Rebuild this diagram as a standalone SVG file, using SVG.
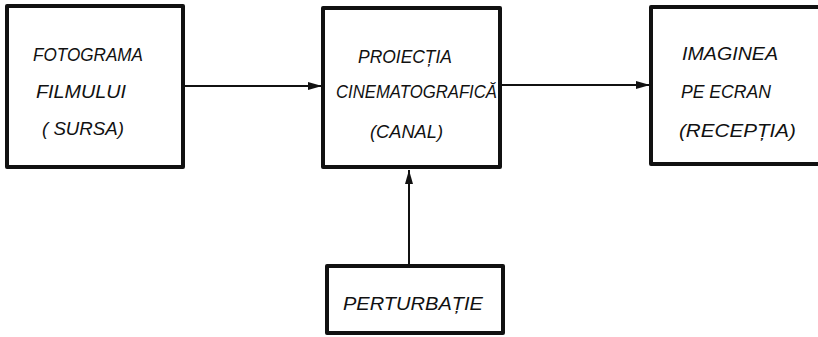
<svg xmlns="http://www.w3.org/2000/svg" width="818" height="337" viewBox="0 0 818 337">
  <style>
    .box { fill: none; stroke: #111; stroke-width: 4; stroke-linejoin: round; }
    .lbl { font-family: "Liberation Sans", Arial, sans-serif; font-style: italic; font-size: 18px; fill: #111; }
    .wire { fill: none; stroke: #111; stroke-width: 2; }
  </style>
  <defs>
    <marker id="head" viewBox="0 0 14 8" refX="14" refY="4" markerWidth="14" markerHeight="8" markerUnits="userSpaceOnUse" orient="auto">
      <path d="M0,0 L14,4 L0,8 Z" fill="#111"/>
    </marker>
  </defs>
  <rect width="818" height="337" fill="#fff"/>

  <g id="connectors">
    <line class="wire" x1="183" y1="86" x2="322" y2="86" marker-end="url(#head)"/>
    <line class="wire" x1="500" y1="85" x2="650" y2="85" marker-end="url(#head)"/>
    <line class="wire" x1="409" y1="266" x2="409" y2="170" marker-end="url(#head)"/>
  </g>

  <g id="sursa">
    <rect class="box" x="7" y="6" width="176" height="161"/>
    <text class="lbl" x="33" y="61" textLength="110" lengthAdjust="spacingAndGlyphs">FOTOGRAMA</text>
    <text class="lbl" x="36" y="98" textLength="90" lengthAdjust="spacingAndGlyphs">FILMULUI</text>
    <text class="lbl" x="42" y="135" textLength="82" lengthAdjust="spacingAndGlyphs">( SURSA)</text>
  </g>

  <g id="canal">
    <rect class="box" x="323" y="8" width="177" height="159"/>
    <text class="lbl" x="358" y="63" textLength="94" lengthAdjust="spacingAndGlyphs">PROIECȚIA</text>
    <text class="lbl" x="336" y="98" textLength="161" lengthAdjust="spacingAndGlyphs">CINEMATOGRAFICĂ</text>
    <text class="lbl" x="370" y="138" textLength="73" lengthAdjust="spacingAndGlyphs">(CANAL)</text>
  </g>

  <g id="receptia">
    <path class="box" d="M822,7 L651,7 L651,164 L822,164"/>
    <text class="lbl" x="682" y="60" textLength="96" lengthAdjust="spacingAndGlyphs">IMAGINEA</text>
    <text class="lbl" x="681" y="98" textLength="90" lengthAdjust="spacingAndGlyphs">PE ECRAN</text>
    <text class="lbl" x="679" y="137" textLength="117" lengthAdjust="spacingAndGlyphs">(RECEPȚIA)</text>
  </g>

  <g id="perturbatie">
    <rect class="box" x="327" y="266" width="176" height="67"/>
    <text class="lbl" x="343" y="310" textLength="140" lengthAdjust="spacingAndGlyphs">PERTURBAȚIE</text>
  </g>
</svg>
